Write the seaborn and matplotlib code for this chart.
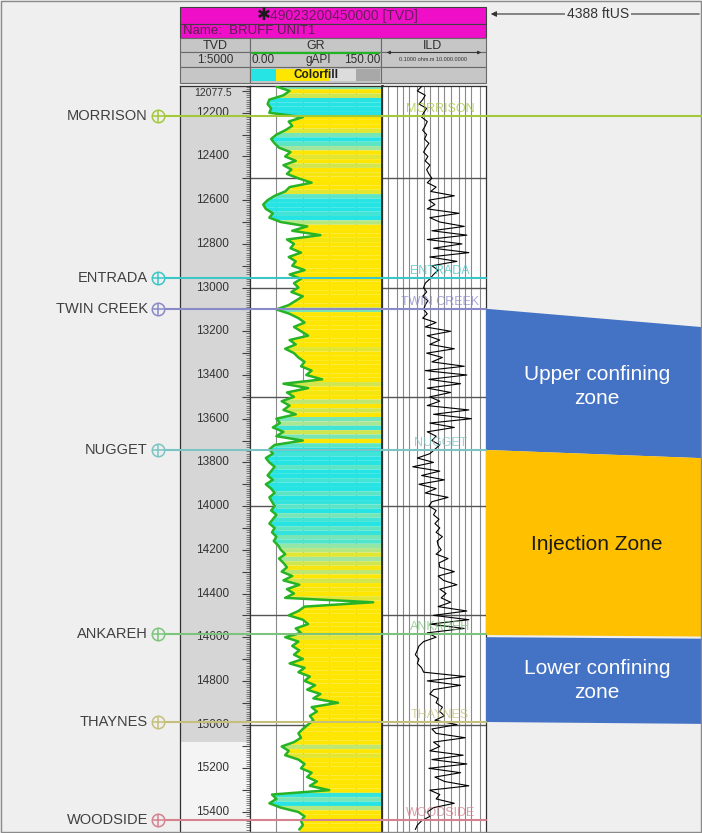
#! /usr/bin/env python3
'''
Well log panel: BRUFF UNIT1 with GR colour fill, ILD resistivity,
formation tops and the injection / confining zones.
'''
# imports
import matplotlib
matplotlib.use("Agg")
from matplotlib import transforms
from matplotlib.patches import Polygon, Rectangle
from matplotlib.ticker import MultipleLocator
import matplotlib.pyplot as plt
import numpy as np
import pandas as pd
import seaborn as sns

# settings
sns.set_style("white")
plt.rcParams['font.family'] = ['Liberation Sans', 'DejaVu Sans']
W, H = 702, 833
BG = '#efefef'

# data (20 ft samples)
TOP_DEPTH = 12077.5
BOTTOM_DEPTH = 15496.0
FIRST_SAMPLE = 12080
STEP = 20
gr = [30, 45, 38, 22, 20, 24, 22, 60, 44, 48,
      40, 30, 24, 28, 33, 46, 40, 52, 38, 47,
      42, 55, 70, 45, 40, 28, 20, 15, 18, 26,
      22, 35, 65, 48, 80, 42, 50, 46, 58, 44,
      52, 48, 62, 45, 58, 50, 55, 47, 60, 52,
      44, 30, 45, 55, 62, 50, 58, 66, 45, 52,
      40, 50, 55, 62, 58, 70, 64, 82, 38, 66,
      42, 50, 36, 45, 38, 52, 30, 34, 26, 38,
      30, 60, 28, 22, 26, 18, 22, 28, 24, 20,
      26, 18, 24, 28, 22, 25, 28, 24, 30, 26,
      22, 28, 25, 30, 27, 32, 35, 40, 33, 38,
      42, 36, 48, 38, 56, 42, 50, 40, 140, 62,
      55, 44, 60, 66, 52, 58, 40, 55, 48, 56,
      50, 60, 45, 62, 55, 68, 62, 74, 65, 80,
      72, 100, 70, 76, 68, 72, 66, 60, 55, 58,
      50, 36, 44, 40, 55, 62, 58, 70, 65, 76,
      68, 90, 25, 30, 22, 35, 55, 62, 58, 60,
      56]
ild = [8, 5, 12, 9, 6, 14, 10, 8, 15, 12,
       9, 14, 11, 18, 13, 10, 16, 12, 20, 14,
       18, 25, 15, 40, 22, 300, 18, 35, 15, 500,
       20, 60, 900, 25, 1200, 15, 700, 30, 1500, 20,
       400, 25, 50, 30, 20, 12, 10, 14, 9, 16,
       12, 10, 15, 9, 40, 12, 200, 15, 60, 20,
       300, 14, 80, 25, 900, 12, 1200, 18, 600, 15,
       200, 20, 60, 15, 1500, 30, 2000, 20, 300, 15,
       40, 25, 60, 35, 20, 5, 30, 3, 60, 8,
       100, 6, 40, 12, 150, 25, 18, 40, 30, 55,
       35, 60, 40, 80, 45, 50, 70, 40, 150, 55,
       60, 300, 50, 90, 400, 60, 120, 70, 200, 50,
       1200, 30, 1500, 20, 900, 15, 40, 10, 6, 5,
       4, 6, 5, 8, 10, 1000, 15, 600, 30, 20,
       50, 40, 80, 60, 100, 35, 400, 25, 40, 1000,
       30, 60, 20, 800, 25, 1200, 18, 600, 35, 100,
       1500, 20, 60, 40, 300, 30, 15, 20, 8, 5,
       4]
depth = FIRST_SAMPLE + STEP * np.arange(len(gr))
log = pd.DataFrame({'depth': depth, 'GR': gr, 'ILD': ild})

tops = ['MORRISON', 'ENTRADA', 'TWIN CREEK', 'NUGGET', 'ANKAREH', 'THAYNES', 'WOODSIDE']
top_depths = [12214, 12955, 13097, 13743, 14586, 14988, 15437]
top_colors = ['#a4c83c', '#3cc6c8', '#8a8ac8', '#7cc4c4', '#7cc47c', '#c4c07c', '#d4828e']
depth_labels = [12200, 12400, 12600, 12800, 13000, 13200, 13400, 13600,
                13800, 14000, 14200, 14400, 14600, 14800, 15000, 15200, 15400]
zone_names = ['Upper confining\nzone', 'Injection Zone', 'Lower confining\nzone']
zone_left = [(13097, 13743), (13743, 14590), (14600, 14988)]
zone_right = [(13184, 13782), (13782, 14597), (14607, 14997)]
zone_colors = ['#4472c4', '#ffc000', '#4472c4']
zone_text = ['white', '#1a1a1a', 'white']

# figure
fig = plt.figure(figsize=(W / 100, H / 100), dpi=100)
fig.patch.set_facecolor(BG)


def box(x0, y0, x1, y1):
    return [x0 / W, 1 - y1 / H, (x1 - x0) / W, (y1 - y0) / H]


axd = fig.add_axes(box(180, 86, 250, 833))
axg = fig.add_axes(box(250, 86, 382, 833))
axi = fig.add_axes(box(382, 86, 486, 833))
for ax in (axd, axg, axi):
    ax.set_ylim(BOTTOM_DEPTH, TOP_DEPTH)
    for s in ax.spines.values():
        s.set_color('#303030')
        s.set_linewidth(0.9)

# depth track
axd.set_facecolor('#f4f4f4')
axd.axhspan(TOP_DEPTH, 15080, color='#d6d6d6', lw=0, zorder=0)
axd.set_xlim(0, 1)
axd.set_xticks([])
axd.yaxis.set_ticks_position('right')
axd.yaxis.set_major_locator(MultipleLocator(100))
axd.yaxis.set_minor_locator(MultipleLocator(10))
axd.tick_params(axis='y', which='major', direction='in', length=6, width=0.8,
                color='#404040', labelright=False, labelleft=False)
axd.tick_params(axis='y', which='minor', direction='in', length=3, width=0.5,
                color='#505050')
dtr = transforms.blended_transform_factory(axd.transAxes, axd.transData)
for d in depth_labels:
    axd.text(0.47, d, str(d), transform=dtr, ha='center', va='center',
             fontsize=8.5, color='#333333')
axd.text(0.47, TOP_DEPTH + 8, '12077.5', transform=dtr, ha='center', va='top',
         fontsize=7.5, color='#333333')

# GR track
axg.set_facecolor('white')
axg.set_xlim(0, 150)
for v in [30, 60, 90, 120]:
    axg.axvline(v, color='#8a8a8a', lw=0.8, zorder=1)
cmap = sns.blend_palette(['#27e4e4', '#a6e69a', '#ffe600'], as_cmap=True)
norm = plt.Normalize(24, 43)
n = len(depth)
for i in range(n):
    j0, j1 = max(i - 1, 0), min(i + 1, n - 1)
    ys = [(depth[j0] + depth[i]) / 2, depth[i], (depth[i] + depth[j1]) / 2]
    xs = [(gr[j0] + gr[i]) / 2, gr[i], (gr[i] + gr[j1]) / 2]
    if i == 0:
        ys[0] = TOP_DEPTH
    if i == n - 1:
        ys[2] = BOTTOM_DEPTH
    axg.fill_betweenx(ys, xs, 150, color=cmap(norm(gr[i])), lw=0, zorder=2)
sns.lineplot(data=log, x='GR', y='depth', orient='y', estimator=None, sort=False,
             color='#26b426', lw=1.8, ax=axg, zorder=3)
axg.spines['right'].set_linewidth(2)
axg.spines['right'].set_color('#3a2c14')

# ILD track
axi.set_facecolor('white')
axi.set_xscale('log')
axi.set_xlim(0.1, 10000)
for k in range(-1, 4):
    for m in (1, 2, 5):
        v = m * 10.0 ** k
        if 0.1 < v < 10000:
            axi.axvline(v, color='#8a8a8a', lw=0.8, zorder=1)
sns.lineplot(data=log, x='ILD', y='depth', orient='y', estimator=None, sort=False,
             color='black', lw=0.8, ax=axi, zorder=3)

for ax in (axg, axi):
    for d in range(12500, 15001, 500):
        ax.axhline(d, color='#555555', lw=1.0, zorder=1.5)
    ax.set_ylim(BOTTOM_DEPTH, TOP_DEPTH)
    ax.set_xlabel('')
    ax.set_ylabel('')
    ax.tick_params(left=False, right=False, bottom=False, top=False,
                   labelleft=False, labelbottom=False, which='both')
axd.set_ylabel('')

# formation names inside the ILD track
itr = transforms.blended_transform_factory(axi.transAxes, axi.transData)
for name, d, c in zip(tops, top_depths, top_colors):
    axi.text(0.56, d - 4, name, transform=itr, ha='center', va='bottom',
             fontsize=9, color=c, alpha=0.75, zorder=4)

# overlay in pixel coordinates
ov = fig.add_axes([0, 0, 1, 1], zorder=5)
ov.set_xlim(0, W)
ov.set_ylim(H, 0)
ov.patch.set_alpha(0)
ov.axis('off')
btr = transforms.blended_transform_factory(ov.transData, axd.transData)

# zones
for name, (lt, lb), (rt, rb), fc, tc in zip(zone_names, zone_left, zone_right,
                                            zone_colors, zone_text):
    ov.add_patch(Polygon([(486, lt), (710, rt), (710, rb), (486, lb)],
                         closed=True, fc=fc, ec='none', transform=btr))
    ov.text(597, (lt + lb + rt + rb) / 4, name, transform=btr, ha='center',
            va='center', fontsize=15, color=tc, linespacing=1.35)

# formation tops
for name, d, c in zip(tops, top_depths, top_colors):
    x_end = W if name == 'MORRISON' else 486
    ov.plot([164, x_end], [d, d], color=c, lw=1.5, transform=btr, zorder=6)
    ov.plot([158], [d], marker='o', ms=9, mfc=BG, mec=c, mew=1.1,
            transform=btr, zorder=7)
    ov.plot([158], [d], marker='+', ms=9, mec=c, mew=1.1, transform=btr, zorder=8)
    ov.text(148, d, name, transform=btr, ha='right', va='center',
            fontsize=10.5, color='#404040')

# header
mag = '#f00fc9'
ov.add_patch(Rectangle((180, 7), 306, 17, fc=mag, ec='#404040', lw=0.8))
ov.add_patch(Rectangle((180, 24), 306, 14, fc=mag, ec='#404040', lw=0.8))
ov.text(264, 15.5, '\u2731', ha='center', va='center', fontsize=12, color='#1a1a1a')
ov.text(270, 15.5, '49023200450000 [TVD]', ha='left', va='center', fontsize=10,
        color='#5c1d50', alpha=0.9)
ov.text(183, 31, 'Name:  BRUFF UNIT1', ha='left', va='center', fontsize=9.5,
        color='#5c1d50')
for y0, y1 in [(38, 52), (52, 67), (67, 83)]:
    for x0, x1 in [(180, 250), (250, 381), (381, 486)]:
        ov.add_patch(Rectangle((x0, y0), x1 - x0, y1 - y0, fc='#c6c6c6',
                               ec='#6a6a6a', lw=0.8))
for x, t in [(215, 'TVD'), (316, 'GR'), (433, 'ILD')]:
    ov.text(x, 45.5, t, ha='center', va='center', fontsize=9, color='#303030')
ov.plot([252, 379], [52.5, 52.5], color='#22b422', lw=1.6)
ov.annotate('', xy=(384, 52.5), xytext=(484, 52.5),
            arrowprops=dict(arrowstyle='<|-|>', color='#303030', lw=0.6,
                            mutation_scale=5))
ov.text(215, 59.5, '1:5000', ha='center', va='center', fontsize=8.5, color='#303030')
ov.text(252, 59.5, '0.00', ha='left', va='center', fontsize=8.5, color='#303030')
ov.text(318, 59.5, 'gAPI', ha='center', va='center', fontsize=8.5, color='#303030')
ov.text(380, 59.5, '150.00', ha='right', va='center', fontsize=8.5, color='#303030')
ov.text(433, 59.5, '0.1000 ohm.m 10.000.0000', ha='center', va='center',
        fontsize=4, color='#303030')
for x0, x1, c in [(251, 276, '#27e4e4'), (276, 330, '#ffe600'),
                  (330, 356, '#dcdcdc'), (356, 380, '#a8a8a8')]:
    ov.add_patch(Rectangle((x0, 69), x1 - x0, 12, fc=c, ec='none'))
ov.text(316, 75, 'Colorfill', ha='center', va='center', fontsize=8.5,
        fontweight='bold', color='#202020')

# lateral distance arrow
ov.annotate('', xy=(488, 14), xytext=(W, 14),
            arrowprops=dict(arrowstyle='-|>', color='#333333', lw=0.8,
                            mutation_scale=8))
ov.text(598, 14, '4388 ftUS', ha='center', va='center', fontsize=10,
        color='#333333', bbox=dict(fc=BG, ec='none', pad=1.5))

# frame
ov.add_patch(Rectangle((1, 1), W - 2, H - 2, fill=False, ec='#8a8a8a', lw=1))

fig.savefig('out.png', dpi=100, facecolor=fig.get_facecolor())
plt.close()
